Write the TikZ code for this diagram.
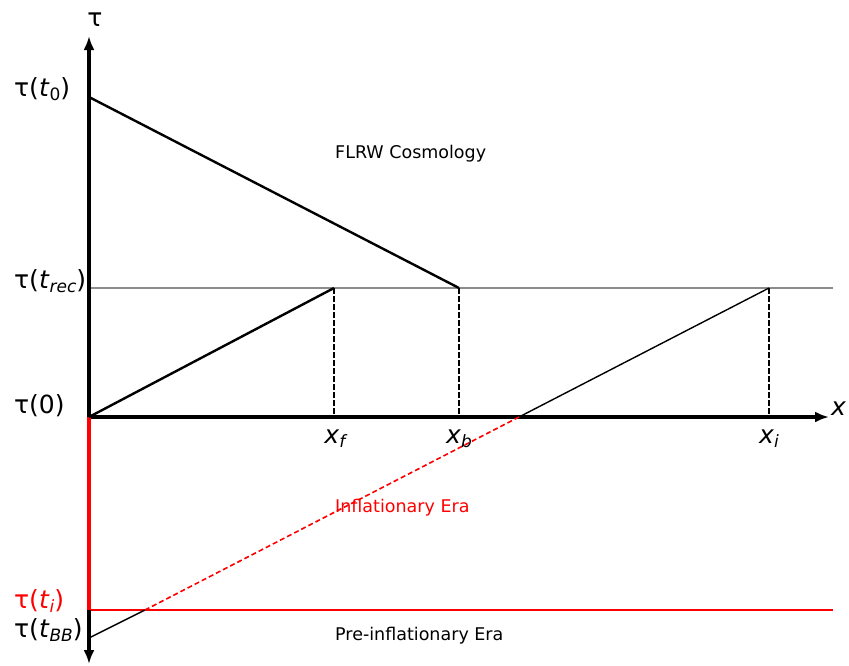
\documentclass[tikz,border=0pt]{standalone}
\usepackage{fontspec}
\setmainfont{DejaVu Sans}
\usetikzlibrary{arrows.meta,positioning}
\definecolor{infRed}{RGB}{255,0,0}
\definecolor{recGray}{RGB}{140,140,140}
\newcommand\tsub[1]{\raisebox{-0.35ex}{\fontsize{17}{17}\selectfont#1}}

\begin{document}
\begin{tikzpicture}[x=1pt,y=-1pt,
      axis/.style={line width=3.2pt,-{Latex[length=14pt,width=11pt]}},
      world/.style={line width=2.4pt},
      ray/.style={line width=1.4pt},
      drop/.style={line width=1.4pt,dash pattern=on 6pt off 2pt},
      lbl/.style={font=\fontsize{25}{28}\selectfont,inner sep=0pt},
      era/.style={font=\fontsize{17.5}{20}\selectfont,inner sep=0pt,anchor=west}]
    \useasboundingbox (0,0) rectangle (849,665);
    % points on the axes
    \coordinate (o) at (89,417);
    \coordinate (top) at (89,36);
    \coordinate (bot) at (89,664);
    \coordinate (xend) at (829,417);
    \coordinate (t0) at (89,97);
    \coordinate (trec) at (89,288);
    \coordinate (ti) at (89,610);
    \coordinate (tbb) at (89,638);
    \coordinate (recend) at (833,288);
    \coordinate (tiend) at (833,610);
    % horizon points
    \coordinate (pf) at (334,288);
    \coordinate (pb) at (459,288);
    \coordinate (pi) at (769,288);
    \coordinate (xf) at (334,417);
    \coordinate (xb) at (459,417);
    \coordinate (xi) at (769,417);
    \coordinate (cross) at (519,417);
    \coordinate (meet) at (145,610);
    % guide lines
    \draw[recGray,line width=1.1pt] (trec) -- (recend);
    \draw[infRed,line width=1.6pt] (ti) -- (tiend);
    % axes
    \draw[axis] (o) -- (xend);
    \draw[axis] (o) -- (top);
    \draw[axis] (ti) -- (bot);
    \draw[infRed,line width=3.2pt] (o) -- (ti);
    % light paths
    \draw[world] (t0) -- (pb);
    \draw[world] (o) -- (pf);
    \draw[ray] (pi) -- (cross);
    \draw[infRed,line width=1.6pt,dash pattern=on 5pt off 3pt] (cross) -- (meet);
    \draw[ray] (meet) -- (tbb);
    \draw[drop] (pf) -- (xf);
    \draw[drop] (pb) -- (xb);
    \draw[drop] (pi) -- (xi);
    % labels
    \node[lbl] (tau) at (95,20) {τ};
    \node[lbl,anchor=west] (xlab) at (831,409) {\textit{x}};
    \node[lbl,anchor=base west] (lt0) at (14,96) {τ(\textit{t}\tsub{0})};
    \node[lbl,anchor=base west] (ltrec) at (14,288) {τ(\textit{t}\tsub{\textit{rec}})};
    \node[lbl,anchor=base west] (lzero) at (14,413) {τ(0)};
    \node[lbl,anchor=base west,text=infRed] (lti) at (14,608) {τ(\textit{t}\tsub{\textit{i}})};
    \node[lbl,anchor=base west] (ltbb) at (14,637) {τ(\textit{t}\tsub{\textit{BB}})};
    \node[lbl,anchor=base] (lxf) at (336,443) {\textit{x}\tsub{\textit{f}}};
    \node[lbl,anchor=base] (lxb) at (459,443) {\textit{x}\tsub{\textit{b}}};
    \node[lbl,anchor=base] (lxi) at (769,443) {\textit{x}\tsub{\textit{i}}};
    \node[era] (flrw) at (335,154) {FLRW Cosmology};
    \node[era,text=infRed] (infl) at (335,508) {Inflationary Era};
    \node[era] (pre) at (335,636) {Pre-inflationary Era};
  \end{tikzpicture}
\end{document}
